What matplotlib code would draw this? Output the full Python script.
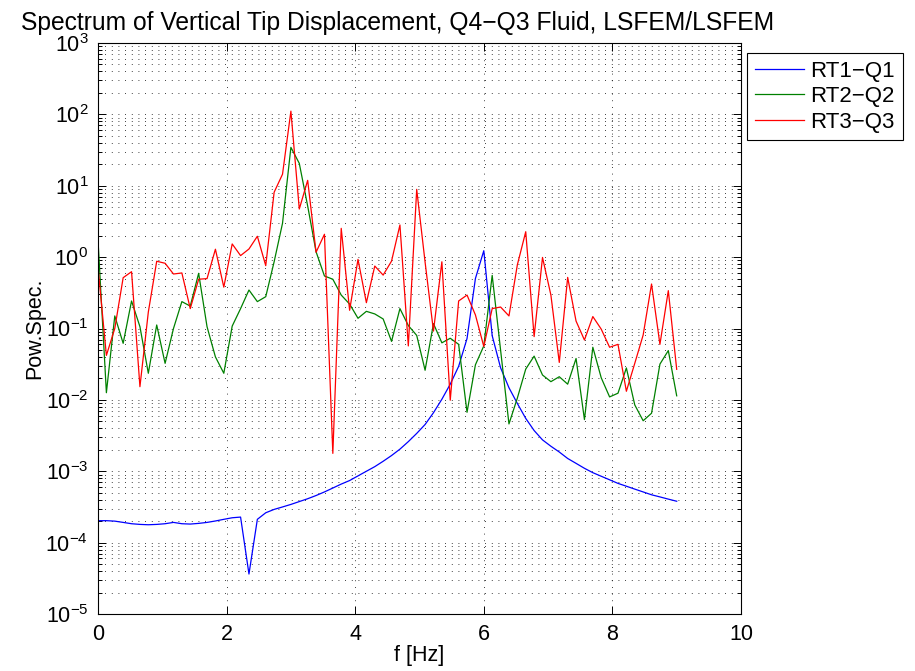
import numpy as np
import matplotlib
matplotlib.use("Agg")
import matplotlib.pyplot as plt
from matplotlib.ticker import LogLocator, NullFormatter, FixedLocator

plt.rcParams['font.family'] = ['Liberation Sans', 'DejaVu Sans']
plt.rcParams['mathtext.fontset'] = 'custom'
plt.rcParams['mathtext.rm'] = 'Liberation Sans'
plt.rcParams['mathtext.it'] = 'Liberation Sans:italic'

# frequency grid: 70 bins, df = 3/23 Hz (0 ... 9 Hz)
n_bins = 70
df = 3.0 / 23.0
freq = np.arange(n_bins) * df

rt1_q1 = [2.03e-4, 2.03e-4, 2.00e-4, 1.92e-4, 1.84e-4, 1.80e-4, 1.78e-4, 1.80e-4, 1.84e-4, 1.92e-4,
          1.84e-4, 1.82e-4, 1.86e-4, 1.92e-4, 2.01e-4, 2.12e-4, 2.23e-4, 2.28e-4, 3.63e-5, 2.12e-4,
          2.62e-4, 2.92e-4, 3.16e-4, 3.43e-4, 3.76e-4, 4.12e-4, 4.57e-4, 5.13e-4, 5.82e-4, 6.61e-4,
          7.41e-4, 8.61e-4, 1.00e-3, 1.16e-3, 1.38e-3, 1.66e-3, 2.04e-3, 2.60e-3, 3.39e-3, 4.52e-3,
          6.61e-3, 1.02e-2, 1.66e-2, 2.95e-2, 7.24e-2, 5.01e-1, 1.23, 7.94e-2, 2.82e-2, 1.48e-2,
          8.91e-3, 5.50e-3, 3.72e-3, 2.75e-3, 2.24e-3, 1.86e-3, 1.51e-3, 1.29e-3, 1.10e-3, 9.55e-4,
          8.51e-4, 7.59e-4, 6.76e-4, 6.17e-4, 5.62e-4, 5.13e-4, 4.68e-4, 4.37e-4, 4.07e-4, 3.80e-4]

rt2_q2 = [1.74, 0.0126, 0.15, 0.062, 0.243, 0.106, 0.0236, 0.112, 0.0325, 0.10,
          0.238, 0.206, 0.593, 0.106, 0.040, 0.0236, 0.108, 0.19, 0.346, 0.238,
          0.279, 0.86, 2.98, 34.5, 20.6, 5.2, 1.19, 0.544, 0.49, 0.294,
          0.22, 0.139, 0.174, 0.16, 0.136, 0.066, 0.19, 0.11, 0.08, 0.026,
          0.117, 0.063, 0.073, 0.06, 0.0067, 0.031, 0.057, 0.555, 0.05, 0.0046,
          0.0106, 0.027, 0.041, 0.0223, 0.018, 0.0211, 0.0166, 0.038, 0.0053, 0.0546,
          0.0204, 0.011, 0.0124, 0.028, 0.0085, 0.0051, 0.0065, 0.0317, 0.049, 0.0114]

rt3_q3 = [0.72, 0.042, 0.10, 0.515, 0.625, 0.0153, 0.17, 0.875, 0.82, 0.58,
          0.60, 0.19, 0.49, 0.50, 1.29, 0.38, 1.53, 1.05, 1.30, 1.96,
          0.76, 8.1, 14.5, 111.0, 4.72, 11.9, 1.17, 2.09, 0.00178, 2.53,
          0.18, 0.93, 0.23, 0.75, 0.56, 0.88, 2.82, 0.057, 8.9, 0.85,
          0.092, 0.86, 0.0099, 0.243, 0.294, 0.155, 0.056, 0.19, 0.20, 0.15,
          0.78, 2.27, 0.077, 0.99, 0.294, 0.0335, 0.52, 0.127, 0.069, 0.147,
          0.098, 0.0546, 0.060, 0.0132, 0.0325, 0.081, 0.42, 0.060, 0.339, 0.0268]

labels = ['RT1\u2212Q1', 'RT2\u2212Q2', 'RT3\u2212Q3']
colors = ['#0000ff', '#008000', '#ff0000']
x_ticks = [0, 2, 4, 6, 8, 10]

fig = plt.figure(figsize=(9.15, 6.71), dpi=100)
W, H = 915, 671
ax = fig.add_axes([98 / W, 1 - 614 / H, (741 - 98) / W, (614 - 43) / H])

for y, lab, c in zip([rt1_q1, rt2_q2, rt3_q3], labels, colors):
    ax.plot(freq, y, color=c, lw=0.9, label=lab)

ax.set_yscale('log')
ax.set_xlim(0, 10)
ax.set_ylim(1e-5, 1e3)
ax.xaxis.set_major_locator(FixedLocator(x_ticks))
ax.yaxis.set_major_locator(LogLocator(base=10, numticks=20))
ax.yaxis.set_minor_locator(LogLocator(base=10, subs=np.arange(2, 10), numticks=20))
ax.yaxis.set_minor_formatter(NullFormatter())

dots = (0, (1, 7))
ax.grid(True, which='major', axis='both', color='k', linestyle=dots, lw=0.6)
ax.grid(True, which='minor', axis='y', color='k', linestyle=dots, lw=0.6)

ax.tick_params(which='both', direction='in', top=True, right=True, labelsize=15.5, width=0.7)
ax.tick_params(which='major', length=6, pad=7)
ax.tick_params(which='minor', length=3)
for s in ax.spines.values():
    s.set_linewidth(0.8)

ax.set_title('Spectrum of Vertical Tip Displacement, Q4\u2212Q3 Fluid, LSFEM/LSFEM', fontsize=17.7,
             pad=9.5, x=(397.5 - 98) / 643)
ax.set_xlabel('f [Hz]', fontsize=15.5, labelpad=0)
ax.set_ylabel('Pow.Spec.', fontsize=15.5, labelpad=0.5)

leg = ax.legend(loc='upper left', bbox_to_anchor=(747 / W, 1 - 53 / H), bbox_transform=fig.transFigure,
                fontsize=16, frameon=True, fancybox=False, shadow=False, framealpha=1,
                edgecolor='k', handlelength=2.2, handletextpad=0.3, labelspacing=0.2,
                borderpad=0.35, borderaxespad=0)
leg.get_frame().set_linewidth(0.8)

fig.savefig('out.png', dpi=100)
